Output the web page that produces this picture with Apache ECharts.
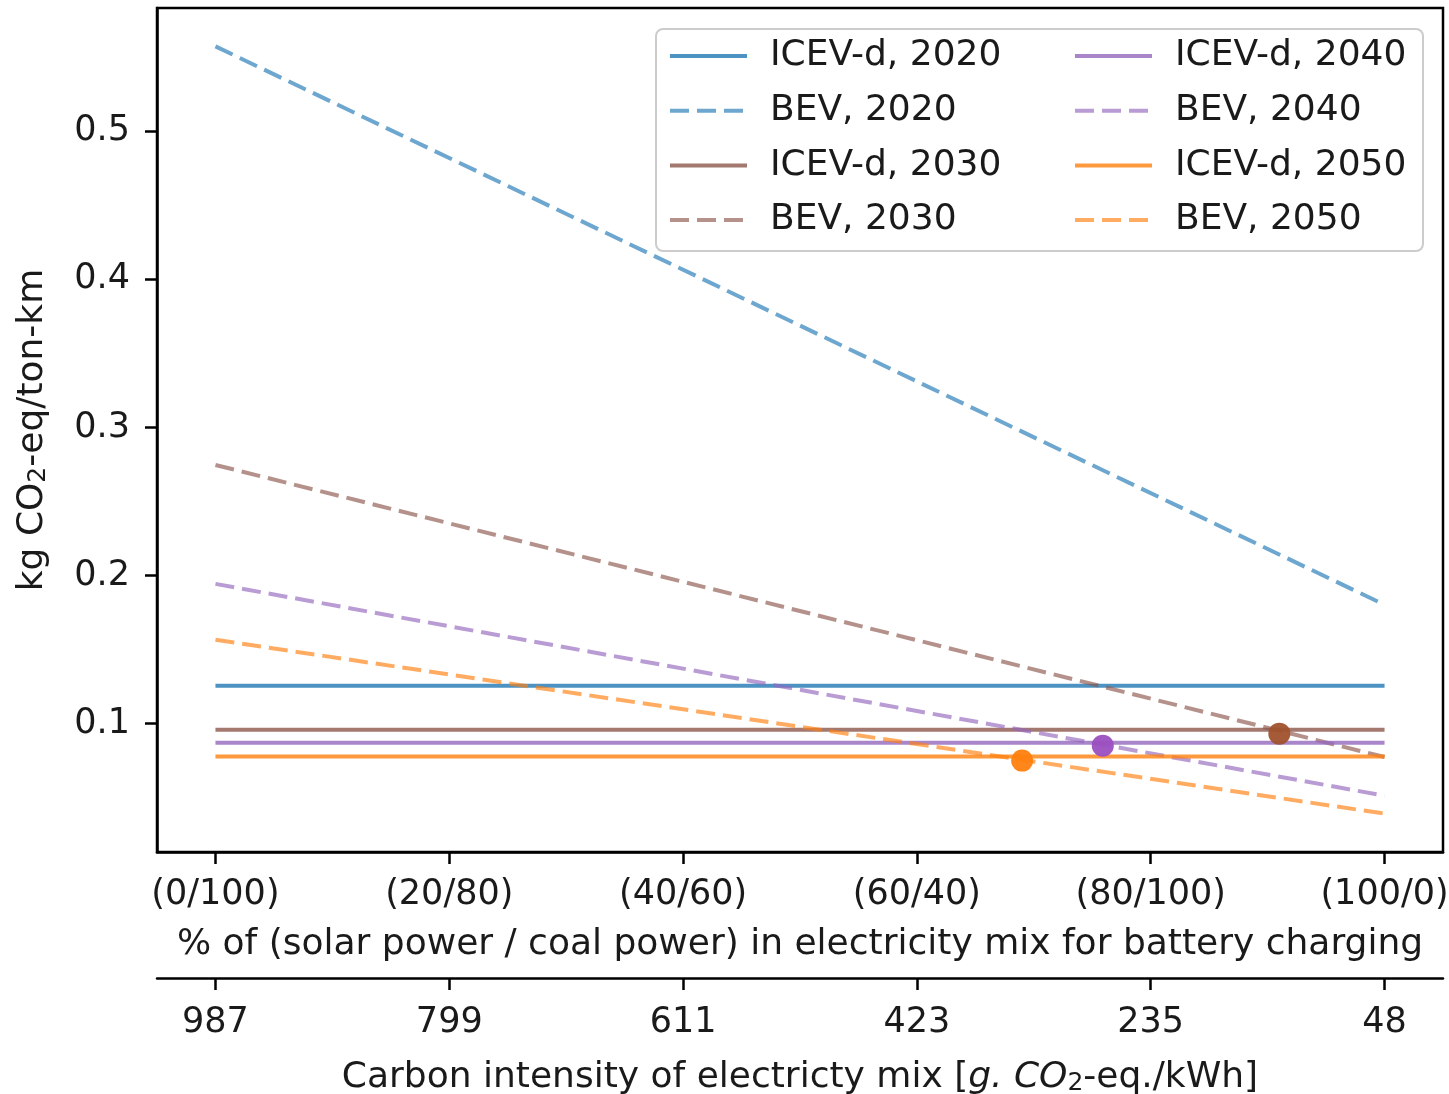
<!DOCTYPE html>
<html>
<head>
<meta charset="utf-8">
<script src="https://cdn.jsdelivr.net/npm/echarts@6/dist/echarts.min.js"></script>
<style>
html,body{margin:0;padding:0;background:#fff;}
#chart{width:1449px;height:1094px;}
</style>
</head>
<body>
<div id="chart"></div>
<script>
// ---- data ----
const xPct = [0, 100];
const icev2020 = [0.1256, 0.1256];
const bev2020  = [0.5573, 0.1803];
const icev2030 = [0.0960, 0.0960];
const bev2030  = [0.2747, 0.0775];
const icev2040 = [0.0872, 0.0872];
const bev2040  = [0.1944, 0.0514];
const icev2050 = [0.0778, 0.0778];
const bev2050  = [0.1567, 0.0393];

const crossX = [91.0, 75.9, 69.0];
const crossY = [0.0933, 0.0852, 0.0751];

const pctTicks  = [0, 20, 40, 60, 80, 100];
const pctLabels = ['(0/100)', '(20/80)', '(40/60)', '(60/40)', '(80/100)', '(100/0)'];
const ciLabels  = ['987', '799', '611', '423', '235', '48'];
const yTicks    = [0.1, 0.2, 0.3, 0.4, 0.5];

// ---- styling ----
const C = {blue:'#1f77b4', brown:'#8c564b', purple:'#9467bd', orange:'#ff7f0e'};
const FONT = 'DejaVu Sans';
const FS = 36;     // names / legend
const TFS = 35;    // tick labels
const TXT = '#1a1a1a';

function pairs(xs, ys){ return xs.map((x,i)=>[x, ys[i]]); }

function lineSeries(name, ys, color, dashed){
  return {
    name: name, type: 'line', data: pairs(xPct, ys),
    symbol: 'none', showSymbol: false, silent: true,
    lineStyle: {color: color, width: 4, opacity: dashed ? 0.65 : 0.8, type: dashed ? [19, 8] : 'solid', cap: 'butt'},
    itemStyle: {color: color, opacity: dashed ? 0.65 : 0.8},
    z: 2
  };
}

const series = [
  lineSeries('ICEV-d, 2020', icev2020, C.blue, false),
  lineSeries('BEV, 2020', bev2020, C.blue, true),
  lineSeries('ICEV-d, 2030', icev2030, C.brown, false),
  lineSeries('BEV, 2030', bev2030, C.brown, true),
  lineSeries('ICEV-d, 2040', icev2040, C.purple, false),
  lineSeries('BEV, 2040', bev2040, C.purple, true),
  lineSeries('ICEV-d, 2050', icev2050, C.orange, false),
  lineSeries('BEV, 2050', bev2050, C.orange, true)
];
const markerColors = ['#a0522d', '#9b4fc0', '#ff7f0e'];
crossX.forEach((x, i) => {
  series.push({
    name: 'cross' + i, type: 'scatter', data: [[x, crossY[i]]],
    symbolSize: 22, itemStyle: {color: markerColors[i], opacity: 0.95}, z: 5, silent: true
  });
});

const legendText = {fontFamily: FONT, fontSize: FS, color: TXT, lineHeight: 40, padding: [0, 0, 0, 18]};
function legend(names, left){
  return {
    data: names, orient: 'vertical', left: left, top: 36,
    itemWidth: 77, itemHeight: 20, itemGap: 14.7, padding: 0,
    itemStyle: {opacity: 0, borderWidth: 0},
    lineStyle: {width: 4},
    textStyle: legendText, selectedMode: false, z: 6
  };
}

const chart = echarts.init(document.getElementById('chart'), null, {renderer: 'canvas'});
chart.setOption({
  animation: false,
  backgroundColor: '#fff',
  textStyle: {fontFamily: FONT},
  grid: {left: 157, right: 6, top: 8, bottom: 242, containLabel: false, outerBoundsMode: 'none',
    show: true, borderColor: '#000', borderWidth: 2.5, backgroundColor: 'transparent'},
  graphic: [{
    type: 'rect', left: 655, top: 28, z: 4,
    shape: {width: 767, height: 222, r: 7},
    style: {fill: 'rgba(255,255,255,0.8)', stroke: '#cccccc', lineWidth: 2}
  }],
  legend: [
    legend(['ICEV-d, 2020', 'BEV, 2020', 'ICEV-d, 2030', 'BEV, 2030'], 668),
    legend(['ICEV-d, 2040', 'BEV, 2040', 'ICEV-d, 2050', 'BEV, 2050'], 1073)
  ],
  xAxis: [{
    type: 'value', min: -5, max: 105, position: 'bottom',
    splitLine: {show: false},
    axisLine: {show: true, onZero: false, lineStyle: {color: '#000', width: 2.5}},
    axisTick: {show: true, length: 12, customValues: pctTicks, lineStyle: {color: '#000', width: 2.5}},
    axisLabel: {customValues: pctTicks, margin: 25, fontFamily: FONT, fontSize: TFS, color: TXT,
      formatter: v => pctLabels[pctTicks.indexOf(Math.round(v))]},
    name: '% of (solar power / coal power) in electricity mix for battery charging',
    nameLocation: 'middle', nameGap: 75,
    nameTextStyle: {fontFamily: FONT, fontSize: FS, color: TXT}
  }, {
    type: 'value', min: -5, max: 105, position: 'bottom', offset: 126,
    splitLine: {show: false},
    axisLine: {show: true, onZero: false, lineStyle: {color: '#000', width: 2.5}},
    axisTick: {show: true, length: 12, customValues: pctTicks, lineStyle: {color: '#000', width: 2.5}},
    axisLabel: {customValues: pctTicks, margin: 27, fontFamily: FONT, fontSize: TFS, color: TXT,
      formatter: v => ciLabels[pctTicks.indexOf(Math.round(v))]},
    name: 'Carbon intensity of electricty mix [{it|g. CO}{sub|2}-eq./kWh]',
    nameLocation: 'middle', nameGap: 81,
    nameTextStyle: {fontFamily: FONT, fontSize: FS, color: TXT,
      rich: {it: {fontFamily: FONT, fontSize: FS, fontStyle: 'italic', color: TXT},
             sub: {fontFamily: FONT, fontSize: 25, color: TXT, verticalAlign: 'bottom', padding: [12, 0, 0, 0]}}}
  }],
  yAxis: [{
    type: 'value', min: 0.0134, max: 0.5832,
    splitLine: {show: false},
    axisLine: {show: true, onZero: false, lineStyle: {color: '#000', width: 2.5}},
    axisTick: {show: true, length: 12, customValues: yTicks, lineStyle: {color: '#000', width: 2.5}},
    axisLabel: {customValues: yTicks, margin: 27, fontFamily: FONT, fontSize: TFS, color: TXT,
      formatter: v => v.toFixed(1)},
    name: 'kg CO{sub|2}-eq/ton-km', nameLocation: 'middle', nameGap: 106,
    nameTextStyle: {fontFamily: FONT, fontSize: FS, color: TXT,
      rich: {sub: {fontFamily: FONT, fontSize: 25, color: TXT, verticalAlign: 'bottom', padding: [12, 0, 0, 0]}}}
  }],
  series: series
});
</script>
</body>
</html>
